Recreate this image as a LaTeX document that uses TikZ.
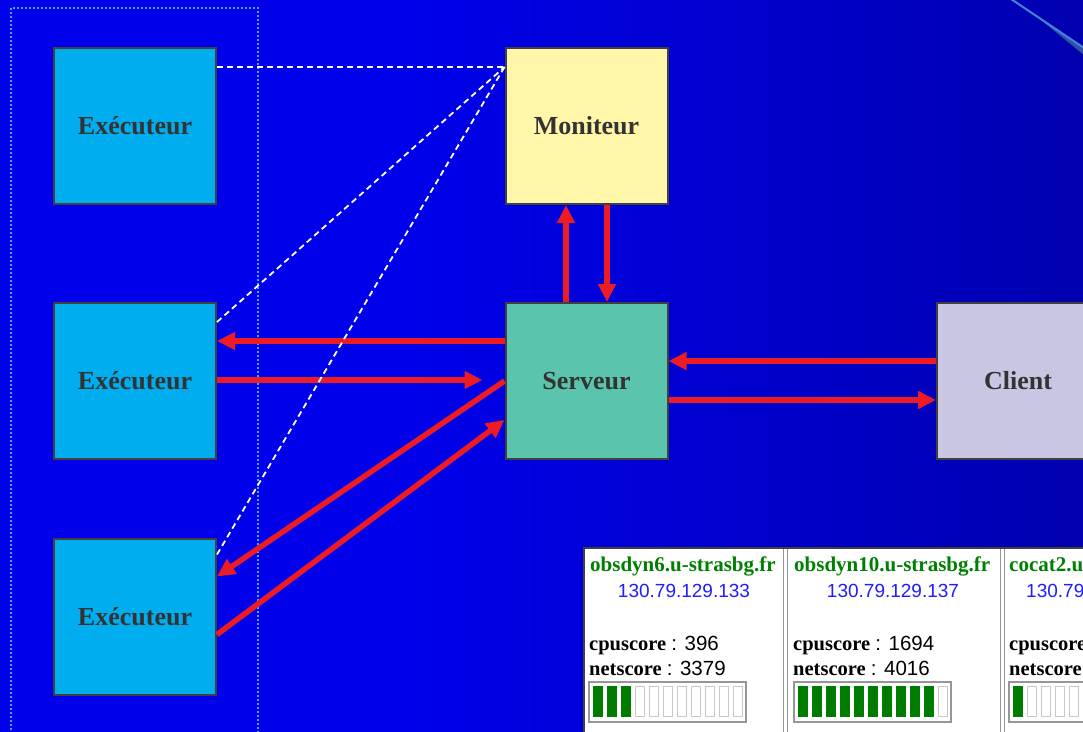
\documentclass[tikz,border=0pt]{standalone}
\usepackage{fontspec}
\setmainfont{Liberation Serif}
\setsansfont{Liberation Sans}
\usetikzlibrary{arrows.meta}

\definecolor{bgblue}{RGB}{0,0,234}
\definecolor{bgdark}{RGB}{0,0,128}
\definecolor{execfill}{RGB}{0,174,239}
\definecolor{monfill}{RGB}{255,246,170}
\definecolor{servfill}{RGB}{91,196,172}
\definecolor{clientfill}{RGB}{200,198,226}
\definecolor{boxedge}{RGB}{64,64,64}
\definecolor{labelgray}{RGB}{51,51,51}
\definecolor{arrowred}{RGB}{237,28,36}
\definecolor{dotblue}{RGB}{70,170,255}
\definecolor{hostgreen}{RGB}{0,128,0}
\definecolor{ipblue}{RGB}{30,30,255}
\definecolor{gaugegreen}{RGB}{0,125,0}
\definecolor{framegray}{RGB}{150,150,150}
\definecolor{cellgray}{RGB}{200,200,200}
\definecolor{glowline}{RGB}{70,130,220}
\definecolor{glowband}{RGB}{45,85,160}

% flat blue on the left, darkening towards the right
\pgfdeclarehorizontalshading{slidebg}{100bp}{color(0bp)=(bgblue); color(44bp)=(bgblue); color(100bp)=(bgdark)}

\tikzset{
  box/.style={draw=boxedge, line width=2pt, minimum width=162pt, minimum height=156pt,
    inner sep=0pt, font=\fontsize{26}{31}\selectfont\bfseries, text=labelgray},
  flow/.style={draw=arrowred, line width=5.5pt, -{Triangle[length=18pt,width=17pt]}},
  link/.style={draw=white, line width=1.8pt, dash pattern=on 6pt off 4pt},
  host/.style={inner sep=0pt, text=hostgreen, font=\fontsize{21}{25}\selectfont\bfseries},
  addr/.style={inner sep=0pt, text=ipblue, font=\fontsize{19}{23}\sffamily},
  score/.style={anchor=base west, inner sep=0pt, text=black, font=\fontsize{20.5}{24}\selectfont},
  gaugeframe/.style={draw=framegray, line width=1.5pt, fill=white},
  cellframe/.style={draw=cellgray, line width=1pt, fill=white},
  separator/.style={draw=framegray, line width=1pt}
}

% bar gauge: #1 = left edge, #2 = number of filled cells (out of 11)
\newcommand{\scoregauge}[2]{%
  \draw[gaugeframe] (#1,682) rectangle ++(157,40);
  \foreach \i in {0,...,10}{%
    \pgfmathsetmacro{\cx}{#1+4+14*\i}%
    \ifnum\i<#2\relax
      \fill[gaugegreen] (\cx,686) rectangle ++(9.5,31);
    \else
      \draw[cellframe] (\cx,686.5) rectangle ++(9.5,30);
    \fi
  }%
}

\begin{document}
\begin{tikzpicture}[x=1pt,y=-1pt]
  \useasboundingbox (0,0) rectangle (1083,731);
  \clip (0,0) rectangle (1083,731);

  % background
  \shade[shading=slidebg] (-2,-2) rectangle (1085,733);

  % corner highlight
  \fill[glowband] (1035,15) -- (1090,52) -- (1090,60) -- cycle;
  \draw[glowline, line width=2pt] (1008,-3) -- (1090,52);

  % executor group frame
  \draw[dotblue, line width=2.4pt, dash pattern=on 2.2pt off 1.8pt] (11,8) rectangle (258,745);

  % components
  \node[box, fill=execfill] (exec1) at (135,126) {Exécuteur};
  \node[box, fill=execfill] (exec2) at (135,381) {Exécuteur};
  \node[box, fill=execfill] (exec3) at (135,616.5) {Exécuteur};
  \node[box, fill=monfill] (moniteur) at (586.5,126) {Moniteur};
  \node[box, fill=servfill] (serveur) at (586.5,381) {Serveur};
  \node[box, fill=clientfill] (client) at (1018,381) {Client};

  % message flows
  \draw[flow] ([yshift=40pt]serveur.west) -- ([yshift=40pt]exec2.east);
  \draw[flow] ([yshift=1pt]exec2.east) -- ([xshift=-22pt,yshift=1pt]serveur.west);
  \draw[flow] (serveur.west) -- ([yshift=40pt]exec3.east);
  \draw[flow] ([yshift=-18pt]exec3.east) -- ([yshift=-39pt]serveur.west);
  \draw[flow] ([xshift=-20.5pt]serveur.north) -- ([xshift=-20.5pt]moniteur.south);
  \draw[flow] ([xshift=20.5pt]moniteur.south) -- ([xshift=20.5pt]serveur.north);
  \draw[flow] ([yshift=20pt]client.west) -- ([yshift=20pt]serveur.east);
  \draw[flow] ([yshift=-19pt]serveur.east) -- ([yshift=-19pt]client.west);

  % monitoring links
  \coordinate (hub) at ([yshift=-20pt]moniteur.north west);
  \draw[link] ([yshift=-20pt]exec1.north east) -- (hub);
  \draw[link] ([yshift=-20pt]exec2.north east) -- (hub);
  \draw[link] ([yshift=-17pt]exec3.north east) -- (hub);

  % host status panel
  \fill[white] (584,548) rectangle (1090,745);
  \draw[boxedge, line width=1.5pt] (584,745) -- (584,548) -- (1090,548);
  \foreach \sx in {783,787,1000,1004}
    \draw[separator] (\sx,549) -- (\sx,745);

  \node[host, anchor=base west] (h1) at (590,571) {obsdyn6.u-strasbg.fr};
  \node[addr, anchor=base] (ip1) at (684,597) {130.79.129.133};
  \node[score] (c1) at (589,650) {\textbf{cpuscore} \textsf{: 396}};
  \node[score] (n1) at (589,675) {\textbf{netscore} \textsf{: 3379}};
  \scoregauge{589}{3}

  \node[host, anchor=base west] (h2) at (794,571) {obsdyn10.u-strasbg.fr};
  \node[addr, anchor=base] (ip2) at (893,597) {130.79.129.137};
  \node[score] (c2) at (793,650) {\textbf{cpuscore} \textsf{: 1694}};
  \node[score] (n2) at (793,675) {\textbf{netscore} \textsf{: 4016}};
  \scoregauge{794}{10}

  \node[host, anchor=base west] (h3) at (1009,571) {cocat2.u};
  \node[addr, anchor=base west] (ip3) at (1026,597) {130.79};
  \node[score] (c3) at (1009,650) {\textbf{cpuscore}};
  \node[score] (n3) at (1009,675) {\textbf{netscore}};
  \scoregauge{1009}{1}
\end{tikzpicture}
\end{document}
